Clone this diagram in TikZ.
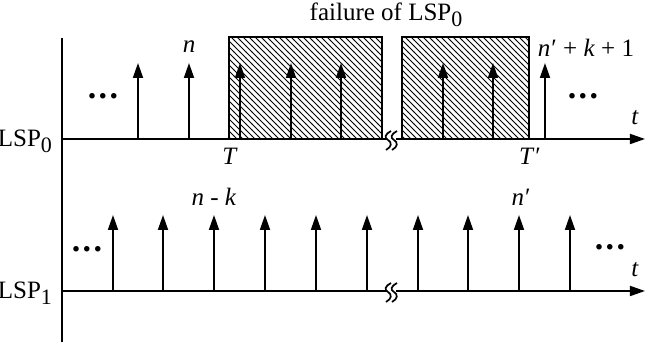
\documentclass[tikz,border=0pt]{standalone}
\usepackage{fontspec}
\setmainfont{Liberation Serif}
\usetikzlibrary{arrows.meta, patterns}

\newcommand{\lsp}[1]{LSP\raisebox{-0.55ex}{\fontsize{11}{12}\selectfont #1}}
\newcommand{\more}{{\fontsize{17}{17}\selectfont\bfseries .\kern1.2pt.\kern1.2pt.}}

\begin{document}
\begin{tikzpicture}[x=0.5pt, y=-0.5pt, font=\fontsize{12.5}{14}\selectfont,
    >={Triangle[length=7.5pt, width=5pt]},
    spike/.style={->, line width=0.9pt},
    axis/.style={->, line width=0.85pt},
    outage/.style={draw, line width=0.85pt, pattern=north west lines},
    brk/.style={line width=0.85pt}]
    \useasboundingbox (0,0) rectangle (645,346);
    % ---------------- vertical frame
    \draw[line width=0.9pt] (62,38) -- (62,342);
    % ---------------- LSP0 (with failure intervals)
    \draw[outage] (229,37) rectangle (382,139);
    \draw[outage] (402,37) rectangle (529,139);
    \draw[axis] (62,139) -- (645,139);
    \foreach \x in {138,189,240,291,341,443,493,545} \draw[spike] (\x,139) -- (\x,63);
    % ---------------- LSP1
    \draw[axis] (62,291) -- (645,291);
    \foreach \x in {113,163,214,265,316,367,418,468,519,570} \draw[spike] (\x,291) -- (\x,215);
    % ---------------- breaks in the time axis
    \foreach \y in {139,291} {
      \fill[white] (387,\y-3) rectangle (396,\y+3);
      \draw[brk] (391,\y-8) .. controls (385,\y-5) and (384,\y-1) .. (388,\y+1)
                            .. controls (392,\y+3) and (392,\y+8) .. (386,\y+11);
      \draw[brk] (397,\y-8) .. controls (391,\y-5) and (390,\y-1) .. (394,\y+1)
                            .. controls (398,\y+3) and (398,\y+8) .. (392,\y+11);
    }
    % ---------------- labels
    \node (fail) at (386,15) {failure of \lsp{0}};
    \node (lsp0) [anchor=east] at (59,141) {\lsp{0}};
    \node (lsp1) [anchor=east] at (59,293) {\lsp{1}};
    \node (n) at (189,47) {\textit{n}};
    \node (nk1) at (586,48) {\textit{n}\kern0.5pt′ + \textit{k} +  1};
    \node (T) at (230,156) {\textit{T}};
    \node (Tp) at (530,156) {\textit{T}\kern0.5pt′};
    \node (t0) at (635,118) {\textit{t}};
    \node (t1) at (635,270) {\textit{t}};
    \node (dl0) at (103,96) {\more};
    \node (dr0) at (583,96) {\more};
    \node (dl1) at (87,249) {\more};
    \node (dr1) at (610,247) {\more};
    \node (nmk) at (214,197) {\textit{n} - \textit{k}};
    \node (np) at (521,197) {\textit{n}\kern0.5pt′};
\end{tikzpicture}
\end{document}
